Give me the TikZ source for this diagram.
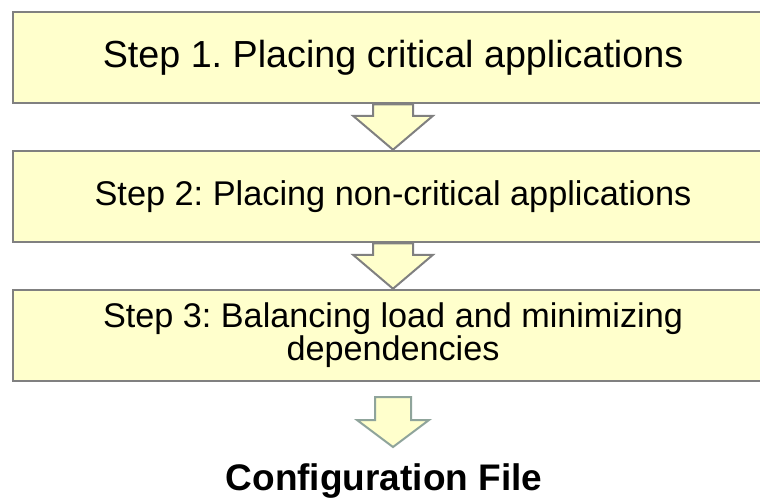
\documentclass[tikz,border=0pt]{standalone}
\usepackage{fontspec}
\setmainfont{Liberation Sans}
\usetikzlibrary{calc}
\frenchspacing

\definecolor{boxfill}{HTML}{FFFFCC}
\definecolor{boxline}{HTML}{808080}
\definecolor{lastline}{HTML}{8FA49B}

% block arrow: style, top point, tip point, shaft half-width, head half-width, head length
\newcommand\blockarrow[6]{%
  \draw[#1] let \p1=(#2), \p2=(#3) in
    (\x2-#4pt,\y1) -- (\x2+#4pt,\y1) -- (\x2+#4pt,\y2+#6pt) -- (\x2+#5pt,\y2+#6pt)
    -- (\x2,\y2) -- (\x2-#5pt,\y2+#6pt) -- (\x2-#4pt,\y2+#6pt) -- cycle;}

\begin{document}
\begin{tikzpicture}[x=1pt,y=-1pt,
  stepbox/.style={draw=boxline, fill=boxfill, line width=2.5pt, rectangle,
    minimum width=760pt, minimum height=91pt, inner sep=0pt, align=center},
  flowarrow/.style={draw=boxline, fill=boxfill, line width=2pt, miter limit=10},
  endarrow/.style={draw=lastline, fill=boxfill, line width=2pt, miter limit=10}]

  \clip (0,0) rectangle (760,503);
  \path[use as bounding box] (0,0) rectangle (760,503);

  \node[stepbox] (s1) at (393,57.5)
    {\fontsize{37.7}{44}\selectfont Step 1. Placing critical applications};
  \node[stepbox] (s2) at (393,196.5)
    {\fontsize{34.3}{30}\selectfont Step 2: Placing non-critical applications};
  \node[stepbox] (s3) at (393,335.5)
    {\fontsize{34.2}{30}\selectfont Step 3: Balancing load and minimizing\\
     \fontsize{34.2}{30}\selectfont dependencies};

  \node[anchor=base, inner sep=0pt] (cfg) at (384,490)
    {\fontsize{37}{40}\selectfont\bfseries Configuration File};

  \coordinate (a3top) at (393,397);
  \coordinate (a3tip) at (393,447);

  \blockarrow{flowarrow}{s1.south}{s2.north}{20}{40}{34}
  \blockarrow{flowarrow}{s2.south}{s3.north}{20}{40}{34}
  \blockarrow{endarrow}{a3top}{a3tip}{18}{36}{27}
\end{tikzpicture}
\end{document}
